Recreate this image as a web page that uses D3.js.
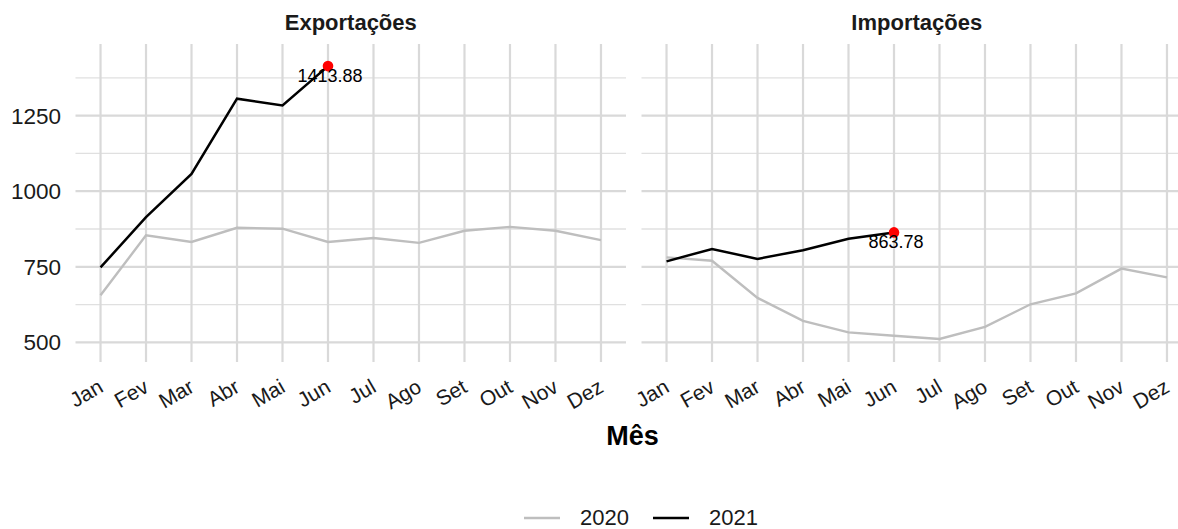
<!DOCTYPE html>
<html>
<head>
<meta charset="utf-8">
<script src="https://cdn.jsdelivr.net/npm/d3@7"></script>
<style>
  body { margin: 0; background: #fff; }
  svg { display: block; font-family: "Liberation Sans", Arial, sans-serif; }
</style>
</head>
<body>
<svg id="chart" width="1178" height="529"></svg>
<script>
// dados
const meses = ["Jan", "Fev", "Mar", "Abr", "Mai", "Jun", "Jul", "Ago", "Set", "Out", "Nov", "Dez"];
const exp2020 = [656, 854, 832, 879, 876, 832, 845, 829, 869, 882, 869, 838];
const exp2021 = [748, 914, 1057, 1306, 1284, 1413.88];
const imp2020 = [781, 770, 647, 571, 533, 522, 511, 551, 626, 662, 744, 715];
const imp2021 = [768, 809, 776, 805, 843, 863.78];
const anos = ["2020", "2021"];
const yTicks = [500, 750, 1000, 1250];
const yMinor = [625, 875, 1125, 1375];

const cores = { "2020": "#bebebe", "2021": "#000000" };

const svg = d3.select("#chart");

// layout (the right panel runs past the picture edge, like the original)
const panelW = 550.5, gap = 15.5;
const yTop = 44, yBottom = 362;
const paineis = [
  { titulo: "Exportações", a2020: exp2020, a2021: exp2021, x0: 75.5, eixoY: true },
  { titulo: "Importações", a2020: imp2020, a2021: imp2021, x0: 75.5 + panelW + gap, eixoY: false }
];

const y = d3.scaleLinear().domain([435, 1487]).range([yBottom, yTop]);

paineis.forEach(p => {
  const x = d3.scalePoint().domain(meses).range([p.x0, p.x0 + panelW]).padding(0.55);
  const g = svg.append("g");

  // grid
  g.selectAll(".minor").data(yMinor).join("line")
    .attr("x1", p.x0).attr("x2", p.x0 + panelW)
    .attr("y1", d => y(d)).attr("y2", d => y(d))
    .attr("stroke", "#e0e0e0").attr("stroke-width", 1.3);
  g.selectAll(".major").data(yTicks).join("line")
    .attr("x1", p.x0).attr("x2", p.x0 + panelW)
    .attr("y1", d => y(d)).attr("y2", d => y(d))
    .attr("stroke", "#d9d9d9").attr("stroke-width", 2.2);
  g.selectAll(".vgrid").data(meses).join("line")
    .attr("x1", d => x(d)).attr("x2", d => x(d))
    .attr("y1", yTop).attr("y2", yBottom)
    .attr("stroke", "#d9d9d9").attr("stroke-width", 2.2);

  // title
  g.append("text")
    .attr("x", p.x0 + panelW / 2).attr("y", 30)
    .attr("text-anchor", "middle")
    .attr("font-size", 22).attr("font-weight", "bold").attr("fill", "#1a1a1a")
    .text(p.titulo);

  // y labels
  if (p.eixoY) {
    g.selectAll(".ylab").data(yTicks).join("text")
      .attr("x", p.x0 - 14.5).attr("y", d => y(d))
      .attr("dy", "0.36em")
      .attr("text-anchor", "end")
      .attr("font-size", 22.5).attr("fill", "#1a1a1a")
      .text(d => d);
  }

  // x labels, rotated, ending near the tick
  g.selectAll(".xlab").data(meses).join("text")
    .attr("transform", d => `translate(${x(d) + 4},391) rotate(-30)`)
    .attr("text-anchor", "end")
    .attr("font-size", 21).attr("fill", "#1a1a1a")
    .text(d => d);

  // lines
  const linha = d3.line().x((d, i) => x(meses[i])).y(d => y(d));
  g.append("path").datum(p.a2020)
    .attr("d", linha).attr("fill", "none")
    .attr("stroke", cores["2020"]).attr("stroke-width", 2.4);
  g.append("path").datum(p.a2021)
    .attr("d", linha).attr("fill", "none")
    .attr("stroke", cores["2021"]).attr("stroke-width", 2.5);

  // last point
  const i = p.a2021.length - 1;
  const v = p.a2021[i];
  g.append("circle")
    .attr("cx", x(meses[i])).attr("cy", y(v)).attr("r", 5.3)
    .attr("fill", "#ff0000");
  g.append("text")
    .attr("x", x(meses[i]) + 2).attr("y", y(v) + 15.5)
    .attr("text-anchor", "middle")
    .attr("font-size", 18).attr("fill", "#000")
    .text(v.toFixed(2));
});

// x title
svg.append("text")
  .attr("x", 632.5).attr("y", 445)
  .attr("text-anchor", "middle")
  .attr("font-size", 27).attr("font-weight", "bold").attr("fill", "#000")
  .text("Mês");

// legend
const leg = svg.append("g");
const legX = [524, 653];
anos.forEach((a, k) => {
  leg.append("line")
    .attr("x1", legX[k]).attr("x2", legX[k] + 36)
    .attr("y1", 518).attr("y2", 518)
    .attr("stroke", cores[a]).attr("stroke-width", 2.6);
  leg.append("text")
    .attr("x", legX[k] + 56).attr("y", 524.5)
    .attr("font-size", 22).attr("fill", "#1a1a1a")
    .text(a);
});
</script>
</body>
</html>
